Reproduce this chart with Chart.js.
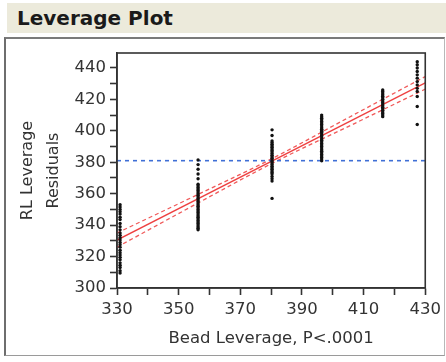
<!DOCTYPE html>
<html>
<head>
<meta charset="utf-8">
<script src="https://cdn.jsdelivr.net/npm/chart.js@4/dist/chart.umd.min.js"></script>
<style>
  html, body { margin: 0; padding: 0; background: #fff; }
  #wrap { position: relative; width: 446px; height: 362px; overflow: hidden; }
  #bar {
    position: absolute; left: 7px; top: 3px; width: 439px; height: 30px;
    background: #eceadb;
    font: bold 20px "DejaVu Sans", sans-serif; color: #1a1a1a;
    line-height: 30px; padding-left: 10px; box-sizing: border-box;
  }
  #frame {
    position: absolute; left: 4px; top: 37px; width: 441px; height: 319px;
    border-top: 2px solid #7a7a7a; border-left: 2px solid #6e6e6e;
    border-right: 1px solid #b8b8b8; border-bottom: 1px solid #9a9a9a;
    box-sizing: border-box;
  }
  #myChart { position: absolute; left: 0; top: 0; }
</style>
</head>
<body>
<div id="wrap">
  <div id="bar">Leverage Plot</div>
  <div id="frame"></div>
  <canvas id="myChart" width="446" height="362"></canvas>
</div>
<script>
// leverage x position of each group of observations
const groupX = [331, 356.3, 380.3, 396.4, 416.2, 427.4];
// residual values, one list per group
const group1 = [353, 351.5, 350, 348.5, 347, 345, 343.5, 341, 339, 337, 335, 333.5, 332, 330.5, 329, 327.5, 326, 324, 322.5, 321, 319.5, 318, 316, 314.5, 313, 311, 309.5];
const group2 = [381.5, 378.5, 375.5, 372.5, 369.5, 366, 365, 364, 363, 362, 361, 360, 359, 358, 357, 356, 355, 354, 353, 352, 351, 350, 349, 348, 347, 346, 345, 344, 343, 342, 341, 340, 339, 338, 337];
const group3 = [400.6, 397, 393.5, 392.5, 391.5, 390.5, 389.5, 388.5, 387.5, 386.5, 385.5, 384.5, 383.5, 382.5, 381.5, 380.5, 379.5, 378.5, 377.5, 376.5, 375.5, 374.5, 373.5, 372.5, 371, 369.5, 368, 357];
const group4 = [410, 409, 408, 407, 406, 405, 404, 403, 402, 401, 400.5, 400, 399.5, 399, 398, 397, 396, 395, 394, 393, 392, 391, 390, 389, 388, 387, 386, 385, 384, 383, 382, 381];
const group5 = [426, 425, 424, 423, 422, 421, 420, 419, 418, 417, 416, 415, 414, 413, 412, 411, 410, 409];
const group6 = [444, 442, 440, 437.7, 435.6, 433.5, 431.3, 429.2, 427, 425, 421.8, 415.5, 404];
const groups = [group1, group2, group3, group4, group5, group6];

// fitted line, confidence curves and the mean line
const fitX = [330, 430];
const fitY = [330.5, 430.5];
const ciX = [330, 355, 380, 405, 430];
const ciUpper = [335, 358.3, 382, 408.3, 434.5];
const ciLower = [326, 352.7, 379, 402.7, 426.5];
const meanX = [330, 430];
const meanY = [381, 381];

// tick settings
const xMin = 330, xMax = 430, xStep = 10, xLabelStep = 20;
const yMin = 300, yMax = 449.5, yStep = 10, yLabelStep = 20;

const points = [];
groups.forEach((g, i) => g.forEach(v => points.push({ x: groupX[i], y: v })));

const pairs = (xs, ys) => xs.map((x, i) => ({ x: x, y: ys[i] }));

const fontFam = '"DejaVu Sans", sans-serif';
const ink = '#333';

// draws the closed box round the plot area
const frameBox = {
    id: 'frameBox',
    afterDraw(chart) {
        const a = chart.chartArea;
        const ctx = chart.ctx;
        ctx.save();
        ctx.strokeStyle = ink;
        ctx.lineWidth = 1.6;
        ctx.strokeRect(a.left, a.top, a.right - a.left, a.bottom - a.top);
        ctx.restore();
    }
};

const ctx = document.getElementById('myChart').getContext('2d');
const myChart = new Chart(ctx, {
    type: 'scatter',
    data: {
        datasets: [{
            label: 'points',
            data: points,
            order: 0,
            pointRadius: 1.7,
            pointBackgroundColor: '#111',
            pointBorderWidth: 0
        }, {
            label: 'fit',
            type: 'line',
            data: pairs(fitX, fitY),
            order: 2,
            borderColor: '#ee4040',
            borderWidth: 1.3,
            pointRadius: 0
        }, {
            label: 'upper',
            type: 'line',
            data: pairs(ciX, ciUpper),
            order: 2,
            borderColor: '#f05a5a',
            borderWidth: 1.3,
            borderDash: [4, 3],
            cubicInterpolationMode: 'monotone',
            pointRadius: 0
        }, {
            label: 'lower',
            type: 'line',
            data: pairs(ciX, ciLower),
            order: 2,
            borderColor: '#f05a5a',
            borderWidth: 1.3,
            borderDash: [4, 3],
            cubicInterpolationMode: 'monotone',
            pointRadius: 0
        }, {
            label: 'mean',
            type: 'line',
            data: pairs(meanX, meanY),
            order: 1,
            borderColor: '#3f6fd6',
            borderWidth: 1.6,
            borderDash: [4, 4],
            pointRadius: 0
        }]
    },
    options: {
        responsive: false,
        animation: false,
        devicePixelRatio: 1,
        layout: { padding: { left: 4, top: 53, right: 16, bottom: 8 } },
        plugins: {
            legend: { display: false },
            tooltip: { enabled: false }
        },
        scales: {
            x: {
                type: 'linear',
                min: xMin,
                max: xMax,
                afterFit: s => { s.height = 66; },
                border: { color: ink, width: 1.6 },
                grid: { drawOnChartArea: false, drawTicks: true, tickLength: 7, tickColor: ink, tickWidth: 1.6 },
                ticks: {
                    stepSize: xStep,
                    maxRotation: 0,
                    autoSkip: false,
                    padding: 5,
                    color: ink,
                    font: { family: fontFam, size: 16.5 },
                    callback: v => ((v - xMin) % xLabelStep === 0 ? v : '')
                },
                title: {
                    display: true,
                    text: 'Bead Leverage, P<.0001',
                    color: ink,
                    font: { family: fontFam, size: 16.5 },
                    padding: { top: 0, bottom: 5 }
                }
            },
            y: {
                type: 'linear',
                min: yMin,
                max: yMax,
                afterFit: s => { s.width = 113; },
                border: { color: ink, width: 1.6 },
                grid: { drawOnChartArea: false, drawTicks: true, tickLength: 7, tickColor: ink, tickWidth: 1.6 },
                ticks: {
                    stepSize: yStep,
                    includeBounds: false,
                    autoSkip: false,
                    padding: 4,
                    color: ink,
                    font: { family: fontFam, size: 16.5 },
                    callback: v => (v % yLabelStep === 0 ? v : '')
                },
                title: {
                    display: true,
                    text: ['RL Leverage', 'Residuals'],
                    color: ink,
                    font: { family: fontFam, size: 16, lineHeight: 1.6 },
                    padding: { top: 11, bottom: 0 }
                }
            }
        }
    },
    plugins: [frameBox]
});
</script>
</body>
</html>
